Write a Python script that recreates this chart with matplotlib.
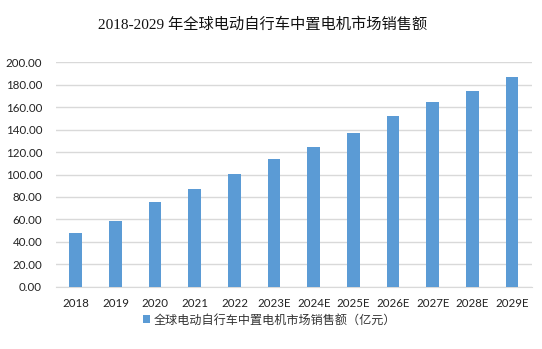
import matplotlib
matplotlib.use("Agg")
import matplotlib.pyplot as plt

years = ["2018", "2019", "2020", "2021", "2022", "2023E", "2024E",
         "2025E", "2026E", "2027E", "2028E", "2029E"]
sales = [47.9, 58.5, 75.8, 87.1, 100.2, 114.1, 124.5, 136.7, 151.9, 164.9, 174.7, 187.2]
yticks = [0, 20, 40, 60, 80, 100, 120, 140, 160, 180, 200]

title = "2018-2029 年全球电动自行车中置电机市场销售额"
series_name = "全球电动自行车中置电机市场销售额（亿元）"

plt.rcParams["font.family"] = ["Lato", "Noto Sans CJK SC", "DejaVu Sans"]

fig = plt.figure(figsize=(5.42, 3.49), dpi=100)
ax = fig.add_axes([0.1033, 0.1785, 0.8782, 0.643])

x = range(len(years))
ax.bar(x, sales, width=0.32, color="#5b9bd5", label=series_name, zorder=3)

ax.set_xlim(-0.5, len(years) - 0.5)
ax.set_ylim(0, 200)
ax.set_yticks(yticks)
ax.set_yticklabels([f"{v:.2f}" for v in yticks])
ax.set_xticks(list(x))
ax.set_xticklabels(years)
ax.tick_params(axis="y", length=0, pad=10, labelsize=8.3, colors="#222222")
ax.tick_params(axis="x", length=0, pad=8, labelsize=8.3, colors="#222222")

ax.grid(axis="y", color="#d9d9d9", linewidth=1, zorder=0)
for s in ["top", "right", "left"]:
    ax.spines[s].set_visible(False)
ax.spines["bottom"].set_color("#d9d9d9")

fig.text(0.484, 0.93, title, ha="center", va="center", fontsize=11,
         family=["Liberation Serif", "Noto Sans CJK SC"], color="#111111")

fig.legend(loc="center", bbox_to_anchor=(0.497, 0.083), frameon=False,
           handlelength=0.6, handleheight=0.6, handletextpad=0.3,
           prop={"family": ["Noto Sans CJK SC"], "size": 8.7}, labelcolor="#333333")

fig.savefig("out.png", dpi=100)
